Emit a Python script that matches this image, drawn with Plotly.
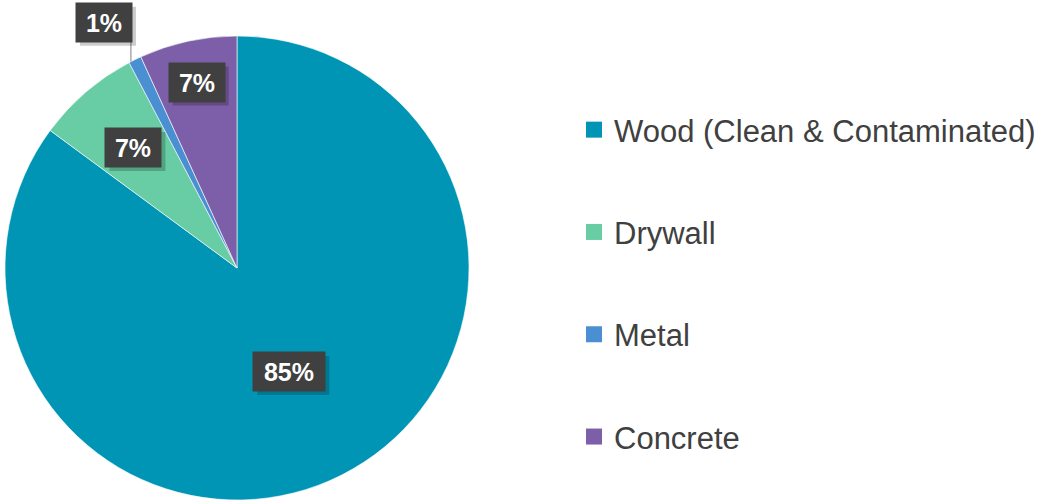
import math
import plotly.graph_objects as go

categories = ["Wood (Clean & Contaminated)", "Drywall", "Metal", "Concrete"]
values = [85.1, 7.2, 0.9, 6.8]
label_texts = ["85%", "7%", "1%", "7%"]
colors = ["#0095B4", "#68CCA4", "#4B8FD3", "#7D5EA8"]

W, H = 1048, 502
cx, cy, R = 237, 268, 232
label_radius = [0.50, 0.685, 1.18, 0.82]
FONT = "Arial, Liberation Sans, sans-serif"

fig = go.Figure()
fig.add_trace(go.Pie(
    labels=categories, values=values, sort=False, direction="clockwise", rotation=0,
    marker=dict(colors=colors, line=dict(color="rgba(255,255,255,0.6)", width=1)),
    textinfo="none", hoverinfo="label+percent", showlegend=False,
    domain=dict(x=[(cx - R) / W, (cx + R) / W], y=[1 - (cy + R) / H, 1 - (cy - R) / H]),
))

for cat, col in zip(categories, colors):
    fig.add_trace(go.Scatter(x=[None], y=[None], mode="markers", name=cat, legendgroup=cat,
                             marker=dict(symbol="square", size=16, color=col), hoverinfo="skip"))

total = sum(values)
cum = 0
annotations = []
shapes = []
for v, t, rf in zip(values, label_texts, label_radius):
    mid = (cum + v / 2) / total * 2 * math.pi
    cum += v
    px = cx + rf * R * math.sin(mid)
    py = cy - rf * R * math.cos(mid)
    if rf > 1:
        ex = cx + R * math.sin(mid) - 4
        ey = cy - math.sqrt(R ** 2 - (ex - cx) ** 2)
        px = ex - 27
        shapes.append(dict(type="line", xref="paper", yref="paper",
                           x0=ex / W, y0=1 - ey / H, x1=ex / W, y1=1 - (py + 19) / H,
                           line=dict(color="#7F7F7F", width=1)))
    bw = 16 * len(t) + 14
    # shadow box (no text)
    shapes.append(dict(type="rect", xref="paper", yref="paper", layer="above",
                       x0=(px + 4 - bw / 2 - 5) / W, x1=(px + 4 + bw / 2 + 5) / W,
                       y0=1 - (py + 4 + 19.5) / H, y1=1 - (py + 4 - 19.5) / H,
                       fillcolor="rgba(0,0,0,0.2)", line=dict(width=0)))
    annotations.append(dict(x=px / W, y=1 - py / H, xref="paper", yref="paper",
                            xanchor="center", yanchor="middle", width=bw, height=29,
                            text="<b>" + t + "</b>", showarrow=False,
                            font=dict(family=FONT, size=25, color="white"),
                            bgcolor="#404040", borderpad=5))

fig.update_layout(
    width=W, height=H,
    margin=dict(l=0, r=0, t=0, b=0),
    paper_bgcolor="white", plot_bgcolor="white",
    xaxis=dict(visible=False, domain=[0.99, 1]), yaxis=dict(visible=False, domain=[0.99, 1]),
    showlegend=True,
    legend=dict(x=574 / W, xanchor="left", y=1 - 103 / H, yanchor="top",
                font=dict(family=FONT, size=31, color="#404040"),
                tracegroupgap=59, itemsizing="trace", bgcolor="rgba(0,0,0,0)"),
    annotations=annotations, shapes=shapes,
)

fig.write_html("out.html")
